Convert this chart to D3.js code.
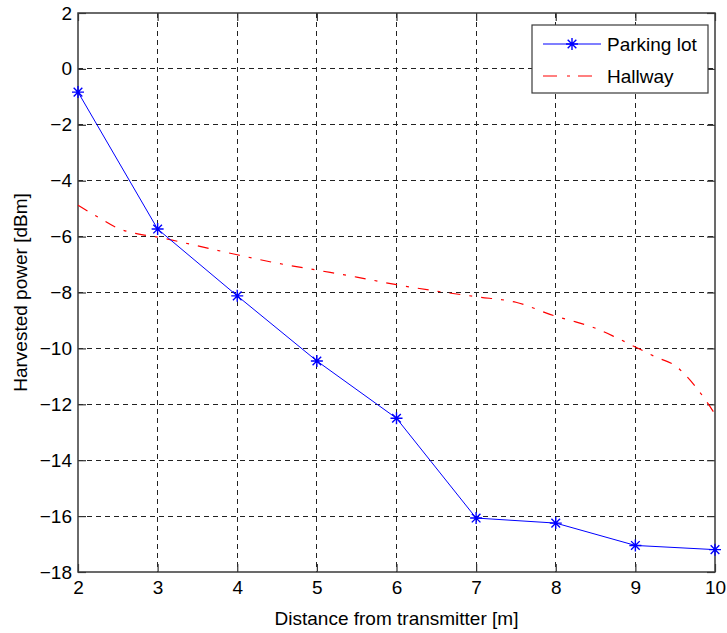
<!DOCTYPE html>
<html>
<head>
<meta charset="utf-8">
<script src="https://cdn.jsdelivr.net/npm/d3@7"></script>
<style>
  body { margin: 0; background: #fff; }
  svg { display: block; font-family: "Liberation Sans", Arial, sans-serif; }
  .axis path { display: none; }
  .axis text { font-size: 19px; fill: #000; }
  .grid line { shape-rendering: crispEdges; }
</style>
</head>
<body>
<div id="chart"></div>
<script>
// Parking lot measurements (one per metre)
var parkX = [2, 3, 4, 5, 6, 7, 8, 9, 10];
var parkY = [-0.83, -5.73, -8.12, -10.45, -12.5, -16.07, -16.25, -17.05, -17.2];

// Hallway curve
var hallX = [2, 2.25, 2.5, 2.75, 3, 3.5, 4, 4.5, 5, 5.5, 6, 6.5, 7, 7.5, 8, 8.25, 8.5, 8.75, 9, 9.25, 9.5, 9.75, 10];
var hallY = [-4.88, -5.3, -5.7, -5.9, -6.02, -6.33, -6.65, -6.95, -7.2, -7.45, -7.72, -7.95, -8.15, -8.35, -8.85, -9.05, -9.28, -9.6, -9.95, -10.3, -10.62, -11.35, -12.35];

var xTicks = [2, 3, 4, 5, 6, 7, 8, 9, 10];
var yTicks = [2, 0, -2, -4, -6, -8, -10, -12, -14, -16, -18];

var width = 727, height = 633;
var margin = {top: 13, right: 12, bottom: 61, left: 78};
var w = width - margin.left - margin.right;
var h = height - margin.top - margin.bottom;

var svg = d3.select("#chart").append("svg")
    .attr("width", width)
    .attr("height", height);

var g = svg.append("g")
    .attr("transform", "translate(" + margin.left + "," + margin.top + ")");

var x = d3.scaleLinear().domain([2, 10]).range([0, w]);
var y = d3.scaleLinear().domain([-18, 2]).range([h, 0]);

// grid
g.append("g").attr("class", "grid").selectAll("line")
    .data(xTicks.slice(1, -1))
    .enter().append("line")
    .attr("x1", function(d){ return x(d); })
    .attr("x2", function(d){ return x(d); })
    .attr("y1", 0).attr("y2", h)
    .attr("stroke", "#222")
    .attr("stroke-dasharray", "5,4");

g.append("g").attr("class", "grid").selectAll("line")
    .data(yTicks.slice(1, -1))
    .enter().append("line")
    .attr("y1", function(d){ return y(d); })
    .attr("y2", function(d){ return y(d); })
    .attr("x1", 0).attr("x2", w)
    .attr("stroke", "#222")
    .attr("stroke-dasharray", "5,4");

// axes with inward ticks on all sides
var tk = 8;
g.append("g").attr("class", "axis")
    .attr("transform", "translate(0," + h + ")")
    .call(d3.axisBottom(x).tickValues(xTicks).tickSize(-tk).tickPadding(9).tickFormat(d3.format("d")));
g.append("g").attr("class", "axis")
    .call(d3.axisTop(x).tickValues(xTicks).tickSize(-tk).tickFormat(""));
g.append("g").attr("class", "axis")
    .call(d3.axisLeft(y).tickValues(yTicks).tickSize(-tk).tickPadding(6).tickFormat(d3.format("d")));
g.append("g").attr("class", "axis")
    .attr("transform", "translate(" + w + ",0)")
    .call(d3.axisRight(y).tickValues(yTicks).tickSize(-tk).tickFormat(""));

g.selectAll(".axis .tick line").attr("stroke", "#333").attr("stroke-width", 1.2);

g.append("rect")
    .attr("width", w).attr("height", h)
    .attr("fill", "none")
    .attr("stroke", "#3a3a3a")
    .attr("stroke-width", 1.5);

// hallway
var hall = hallX.map(function(d, i){ return [d, hallY[i]]; });
g.append("path")
    .datum(hall)
    .attr("fill", "none")
    .attr("stroke", "#ff0000")
    .attr("stroke-width", 1.2)
    .attr("stroke-dasharray", "11,9,3,9")
    .attr("d", d3.line()
        .x(function(d){ return x(d[0]); })
        .y(function(d){ return y(d[1]); })
        .curve(d3.curveMonotoneX));

// parking lot
var park = parkX.map(function(d, i){ return [d, parkY[i]]; });
g.append("path")
    .datum(park)
    .attr("fill", "none")
    .attr("stroke", "#0000ff")
    .attr("stroke-width", 1)
    .attr("d", d3.line()
        .x(function(d){ return x(d[0]); })
        .y(function(d){ return y(d[1]); }));

function asterisk(sel, r) {
    var d = r * 0.72;
    sel.append("path")
        .attr("d", "M" + (-r) + ",0L" + r + ",0M0," + (-r) + "L0," + r +
            "M" + (-d) + "," + (-d) + "L" + d + "," + d +
            "M" + (-d) + "," + d + "L" + d + "," + (-d))
        .attr("stroke", "#0000ff")
        .attr("stroke-width", 1.4)
        .attr("fill", "none");
}

g.append("g").selectAll("g")
    .data(park)
    .enter().append("g")
    .attr("transform", function(d){ return "translate(" + x(d[0]) + "," + y(d[1]) + ")"; })
    .call(asterisk, 6);

// axis titles
svg.append("text")
    .attr("x", margin.left + w / 2)
    .attr("y", 625)
    .attr("text-anchor", "middle")
    .attr("font-size", "19px")
    .attr("fill", "#000")
    .text("Distance from transmitter [m]");

svg.append("text")
    .attr("transform", "translate(27," + (margin.top + h / 2) + ") rotate(-90)")
    .attr("text-anchor", "middle")
    .attr("font-size", "19px")
    .attr("fill", "#000")
    .text("Harvested power [dBm]");

// legend
var lg = svg.append("g").attr("transform", "translate(532,25)");
lg.append("rect")
    .attr("width", 176).attr("height", 68)
    .attr("fill", "#fff")
    .attr("stroke", "#3a3a3a")
    .attr("stroke-width", 1.2);

lg.append("line")
    .attr("x1", 11).attr("x2", 69).attr("y1", 19).attr("y2", 19)
    .attr("stroke", "#0000ff").attr("stroke-width", 1.2);
lg.append("g").attr("transform", "translate(40,19)").call(asterisk, 6);
lg.append("line")
    .attr("x1", 11).attr("x2", 69).attr("y1", 51).attr("y2", 51)
    .attr("stroke", "#ff0000").attr("stroke-width", 1.2)
    .attr("stroke-dasharray", "14,10,3,8");

lg.append("text").attr("x", 75).attr("y", 26).attr("font-size", "19px").text("Parking lot");
lg.append("text").attr("x", 75).attr("y", 58).attr("font-size", "19px").text("Hallway");
</script>
</body>
</html>
